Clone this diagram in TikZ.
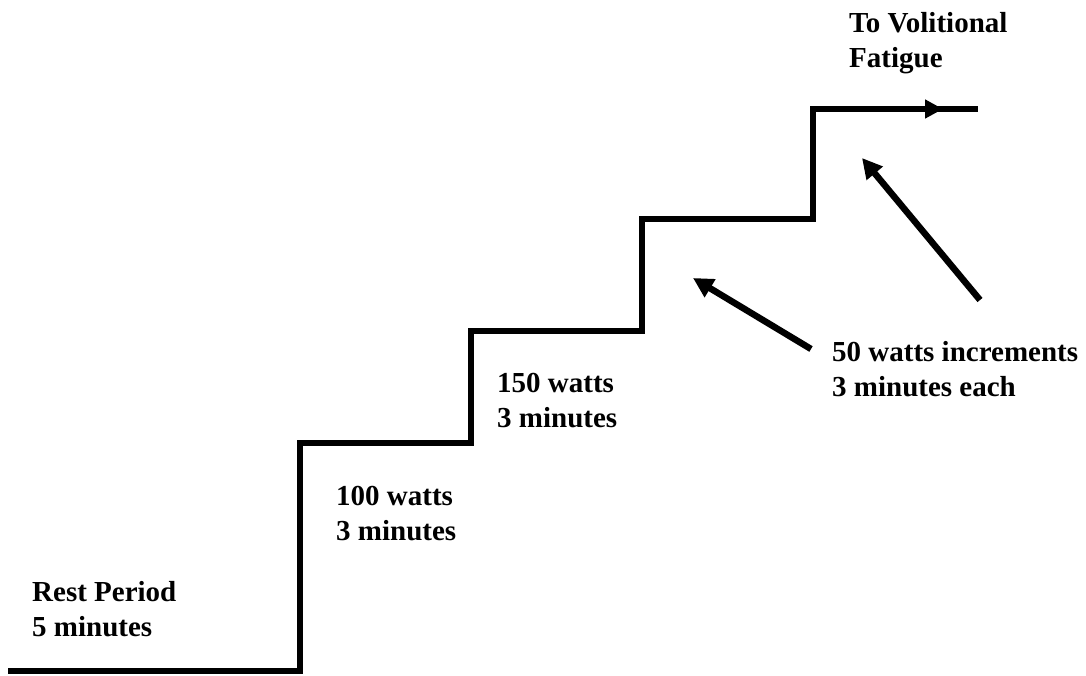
\documentclass[tikz,border=0pt]{standalone}
\usepackage{fontspec}
\setmainfont{Liberation Serif}
\usetikzlibrary{arrows.meta}

\begin{document}
\begin{tikzpicture}[x=1pt,y=-1pt,>={Triangle[length=20pt,width=20pt]},
  stair/.style={line width=6.5pt,line join=miter},
  pointer/.style={line width=6.5pt,->},
  label text/.style={anchor=base west,inner sep=0pt,align=left,
    font=\fontsize{29}{34.5}\selectfont\bfseries}]

  \useasboundingbox (0,0) rectangle (1086,675);

  % corners of the stair
  \coordinate (0) at (8,671);
  \coordinate (1) at (300,671);
  \coordinate (2) at (300,443);
  \coordinate (3) at (471,443);
  \coordinate (4) at (471,331);
  \coordinate (5) at (642,331);
  \coordinate (6) at (642,219);
  \coordinate (7) at (813,219);
  \coordinate (8) at (813,109);
  \coordinate (9) at (978,109);
  \coordinate (tip) at (943,109);

  \draw[stair] (0) -- (1) -- (2) -- (3) -- (4) -- (5) -- (6) -- (7) -- (8) -- (9);
  \draw[stair,-{Triangle[length=18pt,width=18pt]}] (8) -- (tip);

  % anchor is the baseline of the last line
  \node[label text] (rest) at (32,636) {Rest Period\\5 minutes};
  \node[label text] (w100) at (336,540) {100 watts\\3 minutes};
  \node[label text] (w150) at (497,427) {150 watts\\3 minutes};
  \node[label text] (inc) at (832,396) {50 watts increments\\3 minutes each};
  \node[label text] (end) at (849,67) {To Volitional\\Fatigue};

  \coordinate (a1) at (980,300);
  \coordinate (b1) at (862,158);
  \coordinate (a2) at (811,349);
  \coordinate (b2) at (693,278);
  \draw[pointer] (a1) -- (b1);
  \draw[pointer] (a2) -- (b2);
\end{tikzpicture}
\end{document}
